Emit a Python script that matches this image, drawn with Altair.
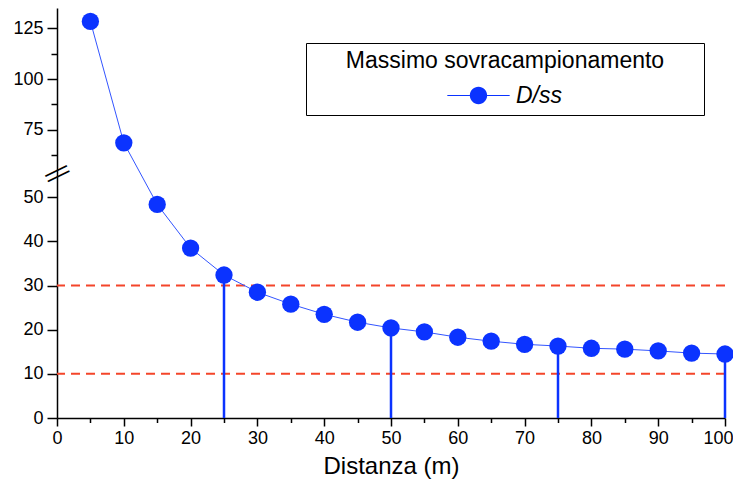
import altair as alt
import pandas as pd

# ---- data ----
distanza = list(range(5, 101, 5))
dss = [128.4, 68.6, 48.4, 38.5, 32.4, 28.5, 25.8, 23.5, 21.7, 20.4,
       19.5, 18.3, 17.4, 16.7, 16.3, 15.8, 15.6, 15.2, 14.7, 14.5]
stem_x = [25, 50, 75, 100]
soglie = [10, 30]
y_major_low = [0, 10, 20, 30, 40, 50]
y_major_high = [75, 100, 125]
y_minor_high = [62.5, 87.5, 112.5]
x_ticks = list(range(0, 101, 5))
serie = "D/ss"
titolo_legenda = "Massimo sovracampionamento"
titolo_x = "Distanza (m)"

# ---- broken axis mapping ----
BREAK = 55.0
RESUME = 56.1
K = 0.46
TOP = 92.9


def t(v):
    return v if v <= BREAK else RESUME + (v - BREAK) * K


T_EXPR = f"datum.v <= {BREAK} ? datum.v : {RESUME} + (datum.v - {BREAK}) * {K}"
INV = f"({BREAK} + (datum.value - {RESUME}) / {K})"
MINOR_Y = f"datum.value > {BREAK} && abs({INV} % 25 - 12.5) < 1"

FONT = "Liberation Sans"
BLU = "#0b33ff"
LINE_BLU = "#3355ff"
ROSSO = "#f4452a"

main = pd.DataFrame({"x": distanza, "v": dss, "serie": serie})
stems = pd.DataFrame({"x": stem_x, "v": [dss[distanza.index(s)] for s in stem_x]})
soglie_df = pd.DataFrame({"v": soglie})
break_df = pd.DataFrame({"x": [0], "ty": [(BREAK + RESUME) / 2]})

y_values = sorted(t(v) for v in y_major_low + y_major_high + y_minor_high)

x_axis = alt.Axis(
    values=x_ticks,
    labelExpr="datum.value % 10 == 0 ? format(datum.value, 'd') : ''",
    labelOffset={"condition": {"test": "datum.value == 100", "value": -7}, "value": 0},
    tickSize={"condition": {"test": "datum.value % 10 != 0", "value": 4.5}, "value": 8},
    tickWidth=1.5, domainWidth=1.5, domainColor="black", tickColor="black",
    labelFont=FONT, labelFontSize=18, labelColor="black", labelPadding=3,
    labelFlush=False, labelOverlap=False,
    grid=False, title=titolo_x, titleFont=FONT, titleFontSize=24,
    titleFontWeight="normal", titleColor="black", titlePadding=7,
)
y_axis = alt.Axis(
    values=y_values,
    labelExpr=f"datum.value <= {BREAK} ? format(datum.value, 'd') : "
              f"(abs({INV} % 25 - 12.5) < 1 ? '' : format(round({INV}), 'd'))",
    tickSize={"condition": {"test": MINOR_Y, "value": 6}, "value": 10},
    tickWidth=1.5, domainWidth=1.5, domainColor="black", tickColor="black",
    labelFont=FONT, labelFontSize=18, labelColor="black", labelPadding=4,
    labelOverlap=False, labelFlush=False,
    grid=False, title=None,
)

X = alt.X("x:Q", scale=alt.Scale(domain=[0, 100], nice=False, zero=False), axis=x_axis)
Y = alt.Y("ty:Q", scale=alt.Scale(domain=[0, TOP], nice=False, zero=False), axis=y_axis)

soglie_layer = alt.Chart(soglie_df).transform_calculate(ty=T_EXPR).mark_rule(
    color=ROSSO, strokeWidth=2, strokeDash=[9, 6]
).encode(y=Y)

stem_layer = alt.Chart(stems).transform_calculate(ty=T_EXPR, zero="0").mark_rule(
    color=BLU, strokeWidth=2.5
).encode(
    x=X,
    y=alt.Y("zero:Q", scale=alt.Scale(domain=[0, TOP], nice=False, zero=False), axis=y_axis),
    y2="ty:Q",
)

line_layer = alt.Chart(main).transform_calculate(ty=T_EXPR).mark_line(
    color=LINE_BLU, strokeWidth=1
).encode(x=X, y=Y)

# legend glyph: thin line through a dot; the two bare move-to points only
# widen the legend entry so the box gets the reference's width
symbol_path = ("M-19.05,0Z M25.17,0Z "
               "M-3.6,-0.06L3.6,-0.06L3.6,0.06L-3.6,0.06Z "
               "M1,0A1,1,0,1,1,-1,0A1,1,0,1,1,1,0Z")

point_layer = alt.Chart(main).transform_calculate(ty=T_EXPR).mark_point(
    filled=True, size=300, opacity=1
).encode(
    x=X, y=Y,
    color=alt.Color(
        "serie:N",
        scale=alt.Scale(range=[BLU]),
        legend=alt.Legend(
            title=titolo_legenda,
            orient="none", legendX=249, legendY=35,
            strokeColor="black", fillColor="white", padding=7,
            titleFont=FONT, titleFontSize=23, titleFontWeight="normal",
            titleColor="black", titleAnchor="middle", titlePadding=11,
            titleLimit=2000,
            labelFont=FONT, labelFontSize=23, labelFontStyle="italic",
            labelColor="black", labelLimit=500,
            symbolType=symbol_path, symbolSize=300, symbolStrokeWidth=0,
            symbolOffset=154, labelOffset=26,
        ),
    ),
)

break_a = alt.Chart(break_df).mark_text(
    text="\u2014", font=FONT, fontSize=24, angle=334, dy=-3, color="black"
).encode(x=X, y=Y)
break_b = alt.Chart(break_df).mark_text(
    text="\u2014", font=FONT, fontSize=24, angle=334, dy=3, color="black"
).encode(x=X, y=Y)

chart = alt.layer(
    soglie_layer, stem_layer, line_layer, point_layer, break_a, break_b
).properties(
    width=668, height=410,
    autosize=alt.AutoSizeParams(type="none"),
    padding={"left": 49, "top": 0, "right": 8, "bottom": 64},
    background="white",
).configure_view(stroke=None)

chart.save("out.html", embed_options={"renderer": "svg", "actions": False})
